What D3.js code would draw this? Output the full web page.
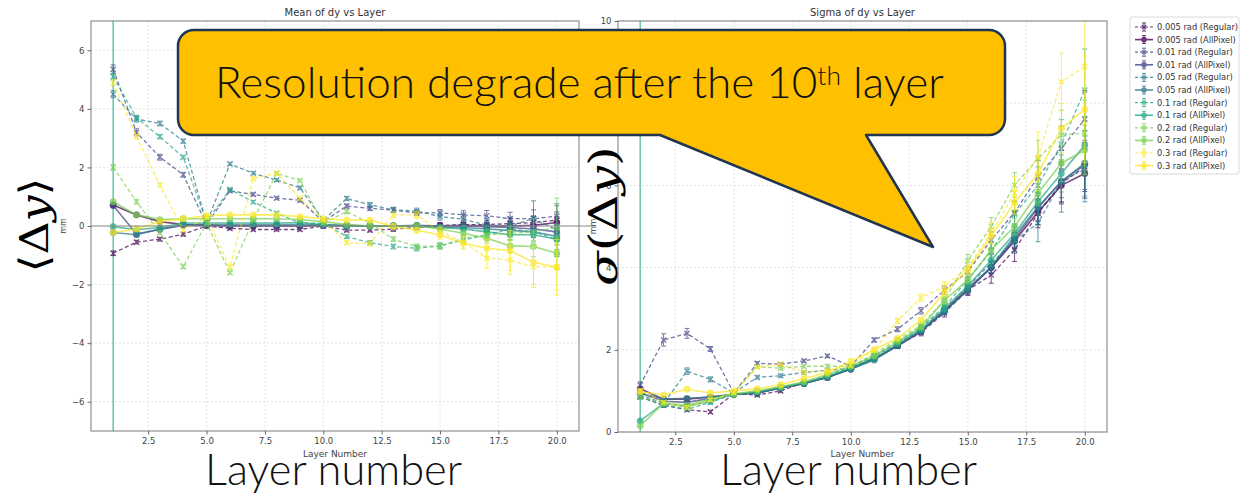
<!DOCTYPE html>
<html><head><meta charset="utf-8">
<script src="https://cdn.jsdelivr.net/npm/d3@7"></script>
<style>body{margin:0;background:#fff;} svg{display:block}</style>
</head><body>
<svg id="c" width="1247" height="494"></svg>
<script>
// ---------- data ----------
const layers = [1,2,3,4,5,6,7,8,9,10,11,12,13,14,15,16,17,18,19,20];
const radLabels = ["0.005 rad","0.01 rad","0.05 rad","0.1 rad","0.2 rad","0.3 rad"];
const radColors = ["#440154","#414487","#2a788e","#22a884","#7ad151","#fde725"];
const xTicks = [2.5,5,7.5,10,12.5,15,17.5,20];
const meanYTicks = [-6,-4,-2,0,2,4,6];
const sigmaYTicks = [0,2,4,6,8,10];

// Mean of dy (mm)
const mean_005_reg = [-0.93,-0.55,-0.45,-0.28,0.0,-0.08,-0.12,-0.12,-0.12,0.0,-0.14,-0.14,-0.11,-0.05,0.02,0.05,0.05,0.08,0.12,0.2];
const mean_005_all = [0.72,0.38,0.15,0.05,0.02,0.0,0.0,0.0,0.0,0.02,0.02,0.0,0.0,0.0,0.0,0.02,0.0,0.0,0.02,0.12];
const mean_01_reg  = [5.35,3.2,2.35,1.75,0.05,1.2,1.08,0.95,0.88,0.15,0.68,0.6,0.54,0.45,0.45,0.38,0.35,0.25,0.25,0.34];
const mean_01_all  = [0.7,-0.27,-0.12,0.02,0.02,0.0,0.0,0.0,0.0,0.02,0.0,0.0,0.0,0.02,0.0,0.0,-0.02,-0.05,-0.1,-0.2];
const mean_05_reg  = [4.5,3.65,3.5,2.9,0.1,2.12,1.8,1.57,1.3,0.2,0.94,0.72,0.55,0.51,0.32,0.23,0.03,0.0,0.26,-0.14];
const mean_05_all  = [-0.22,-0.3,-0.1,0.05,0.05,0.05,0.05,0.05,0.05,0.03,0.0,0.0,0.0,0.0,-0.05,-0.05,-0.1,-0.15,-0.2,-0.35];
const mean_1_reg   = [5.1,3.7,3.05,2.35,0.15,1.25,0.82,0.44,0.1,0.1,-0.36,-0.57,-0.7,-0.76,-0.68,-0.48,-0.3,-0.1,-0.2,-0.45];
const mean_1_all   = [-0.02,-0.13,-0.05,0.1,0.1,0.1,0.1,0.1,0.12,0.05,0.0,0.0,0.0,0.0,-0.05,-0.1,-0.2,-0.3,-0.3,-0.45];
const mean_2_reg   = [2.0,0.83,-0.23,-1.39,0.1,-1.6,0.2,1.8,1.55,0.1,0.49,0.1,-0.45,-0.7,-0.68,-0.42,-0.3,-0.25,-0.2,-0.05];
const mean_2_all   = [0.83,0.38,0.22,0.25,0.25,0.25,0.25,0.25,0.22,0.15,0.05,0.0,0.0,0.0,-0.1,-0.25,-0.42,-0.68,-0.7,-0.93];
const mean_3_reg   = [4.9,3.05,1.4,-0.14,0.3,-1.4,1.62,1.8,0.95,0.2,-0.57,-0.6,0.38,0.38,-0.19,-0.55,-1.1,-1.16,-1.4,-1.39];
const mean_3_all   = [-0.22,-0.1,0.15,0.25,0.35,0.38,0.38,0.38,0.32,0.25,0.2,0.2,-0.02,-0.14,-0.31,-0.59,-0.76,-0.84,-1.24,-1.41];

// Mean errors
const meanErr_005_reg = [0.08,0.06,0.06,0.06,0.05,0.05,0.05,0.05,0.05,0.05,0.06,0.06,0.07,0.08,0.1,0.12,0.15,0.18,0.22,0.28];
const meanErr_005_all = [0.04,0.03,0.03,0.03,0.03,0.03,0.03,0.03,0.03,0.03,0.04,0.04,0.05,0.06,0.07,0.09,0.11,0.14,0.17,0.2];
const meanErr_01_reg  = [0.15,0.12,0.1,0.08,0.05,0.05,0.05,0.05,0.06,0.06,0.07,0.07,0.08,0.09,0.11,0.14,0.18,0.22,0.3,0.35];
const meanErr_01_all  = [0.04,0.03,0.03,0.03,0.03,0.03,0.03,0.03,0.03,0.03,0.04,0.04,0.05,0.06,0.07,0.09,0.11,0.14,0.18,0.22];
const meanErr_05_reg  = [0.12,0.1,0.08,0.07,0.05,0.05,0.05,0.05,0.06,0.06,0.07,0.08,0.09,0.1,0.12,0.15,0.22,0.3,0.6,0.9];
const meanErr_05_all  = [0.05,0.04,0.03,0.03,0.03,0.03,0.03,0.03,0.03,0.03,0.04,0.05,0.06,0.07,0.08,0.1,0.13,0.16,0.2,0.3];
const meanErr_1_reg   = [0.1,0.08,0.07,0.06,0.05,0.05,0.05,0.05,0.05,0.05,0.06,0.07,0.08,0.09,0.1,0.12,0.15,0.2,0.3,0.5];
const meanErr_1_all   = [0.04,0.03,0.03,0.03,0.03,0.03,0.03,0.03,0.03,0.03,0.04,0.05,0.06,0.07,0.08,0.1,0.13,0.17,0.25,0.35];
const meanErr_2_reg   = [0.1,0.08,0.07,0.06,0.05,0.05,0.05,0.05,0.05,0.05,0.06,0.07,0.08,0.09,0.1,0.13,0.18,0.25,0.45,1.0];
const meanErr_2_all   = [0.04,0.03,0.03,0.03,0.03,0.03,0.03,0.03,0.03,0.03,0.04,0.05,0.06,0.07,0.09,0.12,0.16,0.22,0.35,0.55];
const meanErr_3_reg   = [0.1,0.08,0.07,0.06,0.05,0.05,0.05,0.05,0.06,0.06,0.07,0.08,0.1,0.12,0.15,0.2,0.35,0.5,0.7,0.8];
const meanErr_3_all   = [0.04,0.03,0.03,0.03,0.03,0.03,0.03,0.03,0.04,0.04,0.05,0.06,0.08,0.1,0.14,0.2,0.3,0.68,0.75,0.95];

// Sigma of dy (mm)
const sig_005_reg = [0.86,0.65,0.54,0.49,0.93,0.9,1.0,1.2,1.32,1.55,1.8,2.1,2.42,2.9,3.45,3.82,4.43,5.32,6.05,6.45];
const sig_005_all = [1.05,0.8,0.8,0.85,0.92,0.95,1.07,1.18,1.33,1.53,1.78,2.1,2.45,2.95,3.45,4.0,4.65,5.35,6.0,6.29];
const sig_01_reg  = [1.14,2.24,2.4,2.02,0.95,1.67,1.65,1.73,1.85,1.6,2.24,2.5,2.95,3.45,3.9,4.67,5.34,6.21,6.9,7.61];
const sig_01_all  = [0.95,0.75,0.72,0.82,0.92,0.95,1.07,1.18,1.33,1.53,1.78,2.1,2.45,2.95,3.5,4.0,4.7,5.45,6.1,6.5];
const sig_05_reg  = [0.9,0.7,1.48,1.28,0.95,1.33,1.37,1.45,1.5,1.55,1.85,2.15,2.5,3.0,3.55,4.1,4.65,5.08,6.1,6.4];
const sig_05_all  = [0.95,0.8,0.82,0.85,0.92,0.95,1.07,1.18,1.33,1.53,1.75,2.1,2.45,2.93,3.45,4.02,4.77,5.48,6.09,6.54];
const sig_1_reg   = [0.85,0.65,0.55,0.72,0.92,0.98,1.1,1.2,1.38,1.58,1.85,2.2,2.55,3.05,3.7,4.4,5.3,6.0,7.0,8.32];
const sig_1_all   = [0.27,0.7,0.62,0.75,0.92,0.98,1.08,1.2,1.35,1.55,1.78,2.15,2.5,3.0,3.55,4.18,4.83,5.6,6.29,6.98];
const sig_2_reg   = [0.85,0.7,0.6,0.8,0.95,1.59,1.55,1.6,1.6,1.6,1.9,2.25,2.6,3.2,4.17,5.0,6.01,6.65,7.23,7.27];
const sig_2_all   = [0.15,0.7,0.65,0.8,0.93,1.0,1.1,1.22,1.4,1.6,1.85,2.2,2.55,3.2,3.7,4.43,5.0,5.81,6.54,6.86];
const sig_3_reg   = [1.0,0.72,0.6,0.78,0.95,1.58,1.65,1.45,1.5,1.62,2.0,2.7,3.27,3.54,4.0,4.85,5.81,6.7,8.52,8.89];
const sig_3_all   = [0.98,0.9,1.04,0.95,1.0,1.05,1.15,1.3,1.45,1.72,2.0,2.28,2.72,3.39,3.94,4.77,5.58,6.29,7.39,7.85];

// Sigma errors
const sigErr_005_reg = [0.05,0.05,0.04,0.04,0.03,0.04,0.04,0.04,0.04,0.04,0.05,0.06,0.08,0.1,0.13,0.2,0.28,0.35,0.5,0.6];
const sigErr_005_all = [0.03,0.03,0.03,0.03,0.03,0.03,0.03,0.03,0.03,0.03,0.04,0.05,0.06,0.08,0.1,0.15,0.2,0.3,0.4,0.6];
const sigErr_01_reg  = [0.08,0.15,0.12,0.06,0.04,0.04,0.04,0.04,0.04,0.04,0.05,0.06,0.08,0.1,0.13,0.2,0.28,0.4,0.55,0.7];
const sigErr_01_all  = [0.03,0.03,0.03,0.03,0.03,0.03,0.03,0.03,0.03,0.03,0.04,0.05,0.06,0.08,0.1,0.15,0.2,0.3,0.4,0.6];
const sigErr_05_reg  = [0.05,0.05,0.08,0.06,0.04,0.04,0.04,0.04,0.04,0.04,0.05,0.06,0.08,0.1,0.14,0.22,0.3,0.45,0.75,0.8];
const sigErr_05_all  = [0.03,0.03,0.03,0.03,0.03,0.03,0.03,0.03,0.03,0.03,0.04,0.05,0.06,0.08,0.1,0.15,0.22,0.35,0.5,0.8];
const sigErr_1_reg   = [0.05,0.04,0.04,0.04,0.03,0.04,0.04,0.04,0.04,0.04,0.05,0.06,0.08,0.1,0.15,0.22,0.3,0.45,0.6,1.0];
const sigErr_1_all   = [0.03,0.03,0.03,0.03,0.03,0.03,0.03,0.03,0.03,0.03,0.04,0.05,0.06,0.08,0.1,0.15,0.2,0.3,0.45,0.7];
const sigErr_2_reg   = [0.05,0.04,0.04,0.04,0.03,0.04,0.04,0.04,0.04,0.04,0.05,0.06,0.08,0.1,0.15,0.22,0.3,0.45,0.6,0.8];
const sigErr_2_all   = [0.03,0.03,0.03,0.03,0.03,0.03,0.03,0.03,0.03,0.03,0.04,0.05,0.06,0.08,0.1,0.15,0.2,0.3,0.45,0.6];
const sigErr_3_reg   = [0.05,0.04,0.04,0.04,0.03,0.04,0.04,0.04,0.04,0.04,0.05,0.07,0.09,0.12,0.16,0.25,0.4,0.6,0.7,1.4];
const sigErr_3_all   = [0.03,0.03,0.03,0.03,0.03,0.03,0.03,0.03,0.03,0.03,0.04,0.05,0.07,0.09,0.12,0.18,0.28,0.4,0.6,1.3];

const meanSeries = [
  {c:0,reg:true,v:mean_005_reg,e:meanErr_005_reg},{c:0,reg:false,v:mean_005_all,e:meanErr_005_all},
  {c:1,reg:true,v:mean_01_reg,e:meanErr_01_reg},{c:1,reg:false,v:mean_01_all,e:meanErr_01_all},
  {c:2,reg:true,v:mean_05_reg,e:meanErr_05_reg},{c:2,reg:false,v:mean_05_all,e:meanErr_05_all},
  {c:3,reg:true,v:mean_1_reg,e:meanErr_1_reg},{c:3,reg:false,v:mean_1_all,e:meanErr_1_all},
  {c:4,reg:true,v:mean_2_reg,e:meanErr_2_reg},{c:4,reg:false,v:mean_2_all,e:meanErr_2_all},
  {c:5,reg:true,v:mean_3_reg,e:meanErr_3_reg},{c:5,reg:false,v:mean_3_all,e:meanErr_3_all}
];
const sigmaSeries = [
  {c:0,reg:true,v:sig_005_reg,e:sigErr_005_reg},{c:0,reg:false,v:sig_005_all,e:sigErr_005_all},
  {c:1,reg:true,v:sig_01_reg,e:sigErr_01_reg},{c:1,reg:false,v:sig_01_all,e:sigErr_01_all},
  {c:2,reg:true,v:sig_05_reg,e:sigErr_05_reg},{c:2,reg:false,v:sig_05_all,e:sigErr_05_all},
  {c:3,reg:true,v:sig_1_reg,e:sigErr_1_reg},{c:3,reg:false,v:sig_1_all,e:sigErr_1_all},
  {c:4,reg:true,v:sig_2_reg,e:sigErr_2_reg},{c:4,reg:false,v:sig_2_all,e:sigErr_2_all},
  {c:5,reg:true,v:sig_3_reg,e:sigErr_3_reg},{c:5,reg:false,v:sig_3_all,e:sigErr_3_all}
];

// ---------- drawing ----------
const svg = d3.select("#c");
const FONT = "'DejaVu Sans', sans-serif";
const xDomain = [0.05, 20.95];
const xMarker = "M-2.6,-2.6L2.6,2.6M-2.6,2.6L2.6,-2.6";

function drawSeries(sel, s, x, y) {
  const col = radColors[s.c];
  const sg = sel.append("g").attr("opacity", 0.72);
  const pts = layers.map((L,i)=>({L, v:s.v[i], e:s.e[i]}));
  sg.selectAll("line.eb").data(pts).join("line").attr("class","eb")
    .attr("x1",d=>x(d.L)).attr("x2",d=>x(d.L))
    .attr("y1",d=>y(d.v-d.e)).attr("y2",d=>y(d.v+d.e))
    .attr("stroke",col).attr("stroke-width",1);
  ["lo","hi"].forEach(k=>{
    sg.selectAll("line.cap"+k).data(pts).join("line").attr("class","cap"+k)
      .attr("x1",d=>x(d.L)-2.5).attr("x2",d=>x(d.L)+2.5)
      .attr("y1",d=>y(k==="lo"?d.v-d.e:d.v+d.e)).attr("y2",d=>y(k==="lo"?d.v-d.e:d.v+d.e))
      .attr("stroke",col).attr("stroke-width",1);
  });
  sg.append("path").datum(pts)
    .attr("d", d3.line().x(d=>x(d.L)).y(d=>y(d.v)))
    .attr("fill","none").attr("stroke",col)
    .attr("stroke-width", s.reg?1.3:1.6)
    .attr("stroke-dasharray", s.reg?"4,2.5":null);
  if (s.reg) {
    sg.selectAll("path.mk").data(pts).join("path").attr("class","mk")
      .attr("transform",d=>`translate(${x(d.L)},${y(d.v)})`)
      .attr("d", xMarker).attr("stroke",col).attr("stroke-width",1.3).attr("fill","none");
  } else {
    sg.selectAll("circle.mk").data(pts).join("circle").attr("class","mk")
      .attr("cx",d=>x(d.L)).attr("cy",d=>y(d.v)).attr("r",3.4).attr("fill",col);
  }
}

function drawPanel(cfg) {
  const {id,l,t,r,b,yDomain,yTicks,series,title,zero,mmX} = cfg;
  const g = svg.append("g");
  const x = d3.scaleLinear().domain(xDomain).range([l,r]);
  const y = d3.scaleLinear().domain(yDomain).range([b,t]);
  g.append("g").selectAll("line").data(xTicks).join("line")
    .attr("x1",d=>x(d)).attr("x2",d=>x(d)).attr("y1",t).attr("y2",b)
    .attr("stroke","#dcdcdc").attr("stroke-width",0.8).attr("stroke-dasharray","2,2");
  g.append("g").selectAll("line").data(yTicks).join("line")
    .attr("y1",d=>y(d)).attr("y2",d=>y(d)).attr("x1",l).attr("x2",r)
    .attr("stroke","#dcdcdc").attr("stroke-width",0.8).attr("stroke-dasharray","2,2");
  svg.append("clipPath").attr("id","clip"+id).append("rect")
    .attr("x",l).attr("y",t).attr("width",r-l).attr("height",b-t);
  const plot = g.append("g").attr("clip-path",`url(#clip${id})`);
  if (zero) {
    g.append("line").attr("x1",l).attr("x2",r+17).attr("y1",y(0)).attr("y2",y(0))
      .attr("stroke","#8a8a8a").attr("stroke-width",1.1);
  }
  plot.append("line").attr("x1",x(1)).attr("x2",x(1)).attr("y1",t).attr("y2",b)
    .attr("stroke","#3fb890").attr("stroke-width",1.6).attr("opacity",0.75);
  series.forEach(s=>drawSeries(plot, s, x, y));
  g.append("rect").attr("x",l).attr("y",t).attr("width",r-l).attr("height",b-t)
    .attr("fill","none").attr("stroke","#7a7a7a").attr("stroke-width",1);
  const xa = g.append("g").attr("transform",`translate(0,${b})`)
    .call(d3.axisBottom(x).tickValues(xTicks).tickFormat(d3.format(".1f")).tickSize(3.5).tickPadding(3));
  const ya = g.append("g").attr("transform",`translate(${l},0)`)
    .call(d3.axisLeft(y).tickValues(yTicks).tickFormat(d3.format("d")).tickSize(3.5).tickPadding(3));
  [xa,ya].forEach(a=>{
    a.select(".domain").remove();
    a.selectAll(".tick line").attr("stroke","#666");
    a.selectAll(".tick text").attr("fill","#444").style("font-family",FONT).style("font-size","8.5px");
  });
  g.append("text").attr("x",(l+r)/2).attr("y",16).attr("text-anchor","middle")
    .style("font-family",FONT).style("font-size","10px").attr("fill","#333").text(title);
  g.append("text").attr("x",(l+r)/2).attr("y",457).attr("text-anchor","middle")
    .style("font-family",FONT).style("font-size","9px").attr("fill","#444").text("Layer Number");
  g.append("text").attr("transform",`translate(${mmX},${(t+b)/2}) rotate(-90)`).attr("text-anchor","middle")
    .style("font-family",FONT).style("font-size","8px").attr("fill","#444").text("mm");
}

drawPanel({id:"m",l:91,t:21,r:579,b:431,yDomain:[-7,7],yTicks:meanYTicks,series:meanSeries,
  title:"Mean of dy vs Layer",zero:true,mmX:66});
drawPanel({id:"s",l:618,t:21,r:1107,b:432,yDomain:[0,10],yTicks:sigmaYTicks,series:sigmaSeries,
  title:"Sigma of dy vs Layer",zero:false,mmX:596});

// legend
const leg = svg.append("g");
leg.append("rect").attr("x",1130).attr("y",17).attr("width",109).attr("height",157).attr("rx",2)
  .attr("fill","#fff").attr("stroke","#d0d0d0").attr("stroke-width",0.8);
const legItems = [];
radLabels.forEach((lab,i)=>{
  legItems.push({c:i,reg:true,label:lab+" (Regular)"});
  legItems.push({c:i,reg:false,label:lab+" (AllPixel)"});
});
legItems.forEach((it,i)=>{
  const yy = 27 + i*12.6, col = radColors[it.c];
  const eg = leg.append("g").attr("opacity",0.8);
  eg.append("line").attr("x1",1135).attr("x2",1153).attr("y1",yy).attr("y2",yy)
    .attr("stroke",col).attr("stroke-width",it.reg?1.2:1.6).attr("stroke-dasharray",it.reg?"3,2":null);
  eg.append("line").attr("x1",1144).attr("x2",1144).attr("y1",yy-4).attr("y2",yy+4).attr("stroke",col);
  eg.append("line").attr("x1",1142).attr("x2",1146).attr("y1",yy-4).attr("y2",yy-4).attr("stroke",col);
  eg.append("line").attr("x1",1142).attr("x2",1146).attr("y1",yy+4).attr("y2",yy+4).attr("stroke",col);
  if (it.reg) eg.append("path").attr("transform",`translate(1144,${yy})`).attr("d","M-2,-2L2,2M-2,2L2,-2").attr("stroke",col).attr("stroke-width",1.2);
  else eg.append("circle").attr("cx",1144).attr("cy",yy).attr("r",2.8).attr("fill",col);
  leg.append("text").attr("x",1157).attr("y",yy+3).style("font-family",FONT).style("font-size","8.3px")
    .attr("fill","#333").text(it.label);
});

// big math labels
const SERIF = "'DejaVu Serif', 'Liberation Serif', serif";
const lab1 = svg.append("text").attr("transform","translate(48,225) rotate(-90)").attr("text-anchor","middle")
  .style("font-family",SERIF).style("font-size","40px").attr("fill","#000")
  .attr("textLength",95).attr("lengthAdjust","spacingAndGlyphs");
lab1.append("tspan").text("⟨Δ");
lab1.append("tspan").style("font-style","italic").text("y");
lab1.append("tspan").text("⟩");
const lab2 = svg.append("text").attr("transform","translate(617,216) rotate(-90)").attr("text-anchor","middle")
  .style("font-family",SERIF).style("font-size","40px").attr("fill","#000")
  .attr("textLength",140).attr("lengthAdjust","spacingAndGlyphs");
lab2.append("tspan").style("font-style","italic").text("σ");
lab2.append("tspan").text("(Δ");
lab2.append("tspan").style("font-style","italic").text("y");
lab2.append("tspan").text(")");

// big x labels
const SANS = "Lato, 'Noto Sans', sans-serif";
[[205,"Layer number"],[720,"Layer number"]].forEach(([xx,tx])=>{
  const t = svg.append("text").attr("x",xx).attr("y",485).style("font-family",SANS)
    .style("font-weight","300").style("font-size","38px").attr("fill","#111").text(tx);
  const w = t.node().getComputedTextLength();
  t.style("font-size",(38*257/w)+"px");
});

// callout
const cl=178, ct=30, cr=1005, cb=135, rr=16;
const tail = {bl:660, br:866, tx:933, ty:247};
const cp = d3.path();
cp.moveTo(cl+rr,ct); cp.lineTo(cr-rr,ct); cp.arcTo(cr,ct,cr,ct+rr,rr);
cp.lineTo(cr,cb-rr); cp.arcTo(cr,cb,cr-rr,cb,rr);
cp.lineTo(tail.br,cb); cp.lineTo(tail.tx,tail.ty); cp.lineTo(tail.bl,cb);
cp.lineTo(cl+rr,cb); cp.arcTo(cl,cb,cl,cb-rr,rr);
cp.lineTo(cl,ct+rr); cp.arcTo(cl,ct,cl+rr,ct,rr); cp.closePath();
svg.append("path").attr("d",cp.toString()).attr("fill","#ffc000").attr("stroke","#1f3550").attr("stroke-width",2.5).attr("stroke-linejoin","round");
const ct1 = svg.append("text").attr("x",215).attr("y",98).style("font-family",SANS)
  .style("font-weight","300").style("font-size","35px").attr("fill","#111");
ct1.append("tspan").text("Resolution degrade after the 10");
ct1.append("tspan").attr("dy",-13).style("font-size","21px").text("th");
ct1.append("tspan").attr("dy",13).text(" layer");
const cw = ct1.node().getComputedTextLength();
const fs = 35*729/cw;
ct1.style("font-size",fs+"px");
ct1.select("tspan:nth-child(2)").style("font-size",(fs*0.6)+"px");
</script>
</body></html>
